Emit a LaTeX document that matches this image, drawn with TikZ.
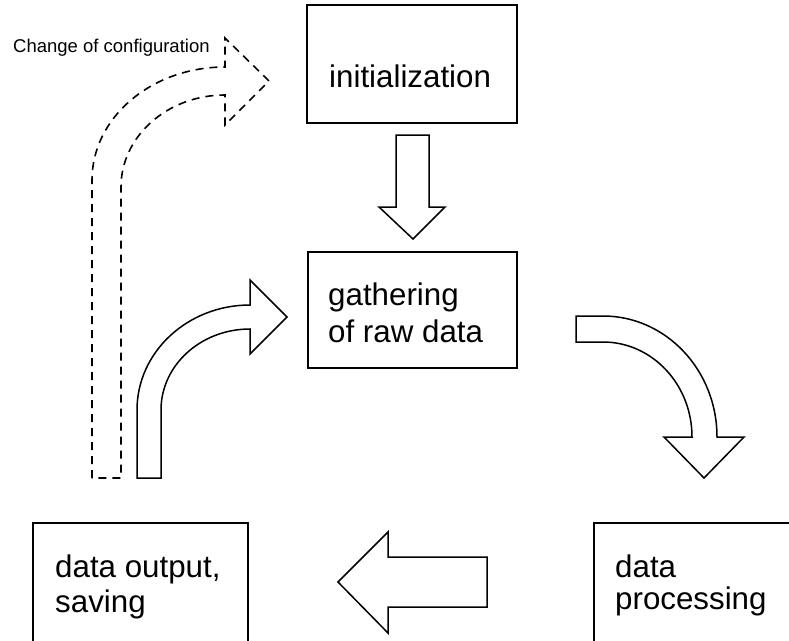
\documentclass[tikz,border=0pt]{standalone}
\usepackage{fontspec}
\setmainfont{Liberation Sans}
\begin{document}
\begin{tikzpicture}[x=1pt,y=-1pt,
  boxshape/.style={draw=black,line width=1.5pt,fill=white},
  arrowshape/.style={draw=black,line width=1.5pt,fill=white,line join=miter},
  dasharrow/.style={draw=black,line width=1.6pt,dash pattern=on 8pt off 6pt},
  boxtext/.style={anchor=base west,inner sep=0pt,font=\fontsize{31.3}{37}\selectfont},
  smalltext/.style={anchor=base west,inner sep=0pt,font=\fontsize{18.5}{21}\selectfont}]
\useasboundingbox (0,0) rectangle (789,640);
\clip (0,0) rectangle (789,640);
% boxes
\path[boxshape] (307,5) rectangle (517,123);
\node[inner sep=0pt,minimum width=210pt,minimum height=118pt] (init) at (412,64) {};
\path[boxshape] (308,252) rectangle (517,368);
\node[inner sep=0pt,minimum width=209pt,minimum height=116pt] (gather) at (412.5,310) {};
\path[boxshape] (33,523) rectangle (248,680);
\node[inner sep=0pt,minimum width=215pt] (output) at (140.5,580) {};
\path[boxshape] (594,523) rectangle (820,680);
\node[inner sep=0pt,minimum width=200pt] (proc) at (700,580) {};
% texts
\node[boxtext] (initlbl) at (329,87) {initialization};
\node[boxtext] (gatherlbla) at (328,305) {gathering};
\node[boxtext] (gatherlblb) at (328,342) {of raw data};
\node[boxtext] (outlbla) at (55,577) {data output,};
\node[boxtext] (outlblb) at (55,612) {saving};
\node[boxtext] (proclbla) at (615,577) {data};
\node[boxtext] (proclblb) at (615,609) {processing};
\node[smalltext] (changelbl) at (13,52) {Change of configuration};
% down arrow
\path[arrowshape] (396,135) -- (429,135) -- (429,207) -- (445,207) -- (413,239) -- (379,207) -- (396,207) -- cycle;
% left arrow
\path[arrowshape] (487,557) -- (388,557) -- (388,532) -- (338,582) -- (388,633) -- (388,607) -- (487,607) -- cycle;
% curved arrow output -> gathering
\path[arrowshape] (137,478) -- (137,410) .. controls (137,352) and (187.6,305) .. (250,305)
  -- (250,280) -- (287,317) -- (250,354) -- (250,329)
  .. controls (200.8,329) and (161,365.3) .. (161,410) -- (161,478) -- cycle;
% curved arrow gathering -> processing
\path[arrowshape] (576,316) -- (603,316) .. controls (666,316) and (717,370.2) .. (717,437)
  -- (744,437) -- (704,478) -- (664,437) -- (692,437)
  .. controls (692,384.5) and (652.2,342) .. (603,342) -- (576,342) -- cycle;
% dashed arrow: change of configuration
\path[dasharrow] (92,478) -- (92,180) .. controls (92,117.6) and (151.5,67) .. (225,67)
  -- (225,38) -- (269,81) -- (225,125) -- (225,95)
  .. controls (167.6,95) and (121,136.2) .. (121,187) -- (121,478) -- cycle;
\end{tikzpicture}
\end{document}
